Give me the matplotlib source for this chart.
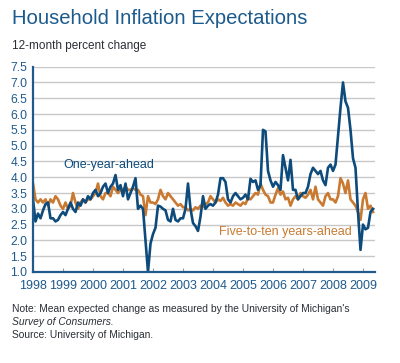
import numpy as np
import matplotlib
matplotlib.use("Agg")
import matplotlib.pyplot as plt

plt.rcParams['font.family'] = ['Liberation Sans', 'DejaVu Sans']

# monthly values, Jan 1998 .. May 2009
one_year = [
    3.3, 2.6, 2.85, 2.7, 2.95, 3.15, 3.2, 2.7, 2.7, 2.6, 2.65, 2.8,      # 1998
    2.9, 2.8, 3.0, 3.2, 3.0, 2.9, 3.2, 3.1, 3.3, 3.2, 3.4, 3.3,          # 1999
    3.5, 3.6, 3.4, 3.5, 3.7, 3.8, 3.5, 3.7, 3.8, 4.07, 3.6, 3.75,        # 2000
    3.4, 3.8, 3.3, 3.5, 3.7, 3.97, 3.0, 3.1, 3.0, 2.0, 1.0, 1.9,         # 2001
    2.2, 2.4, 3.1, 3.07, 3.0, 2.95, 2.65, 2.6, 3.0, 2.65, 2.6, 2.7,      # 2002
    2.7, 3.0, 3.8, 3.0, 2.55, 2.45, 2.3, 2.75, 3.4, 3.0, 3.1, 3.15,      # 2003
    3.1, 3.2, 3.45, 3.97, 3.97, 3.85, 3.3, 3.2, 3.4, 3.5, 3.4, 3.3,      # 2004
    3.35, 3.45, 3.3, 3.95, 3.85, 3.9, 3.6, 3.75, 5.5, 5.45, 4.2, 3.9,    # 2005
    3.7, 3.85, 3.75, 3.6, 4.7, 4.3, 3.9, 4.55, 3.6, 3.6, 3.3, 3.4,       # 2006
    3.5, 3.5, 3.7, 4.1, 4.3, 4.2, 4.1, 4.2, 3.9, 3.75, 4.3, 4.4,         # 2007
    4.2, 4.4, 5.3, 6.2, 7.0, 6.4, 6.2, 5.5, 4.6, 4.3, 2.9, 1.7,          # 2008
    2.5, 2.35, 2.4, 2.9, 3.0,                                            # 2009
]
five_to_ten = [
    3.8, 3.3, 3.2, 3.3, 3.2, 3.3, 3.1, 3.3, 3.2, 3.4, 3.3, 3.1,          # 1998
    3.0, 3.2, 3.0, 3.1, 3.5, 3.2, 3.0, 3.2, 3.3, 3.2, 3.3, 3.3,          # 1999
    3.4, 3.5, 3.8, 3.4, 3.3, 3.5, 3.5, 3.4, 3.7, 3.6, 3.5, 3.6,          # 2000
    3.6, 3.7, 3.6, 3.6, 3.65, 3.6, 3.6, 3.45, 3.4, 2.8, 3.4, 3.2,        # 2001
    3.2, 3.15, 3.3, 3.6, 3.4, 3.3, 3.5, 3.4, 3.3, 3.2, 3.1, 3.15,        # 2002
    3.05, 3.05, 2.95, 3.0, 2.95, 3.05, 3.0, 3.1, 3.05, 3.15, 3.2, 3.4,   # 2003
    3.3, 3.2, 3.3, 3.25, 3.35, 3.2, 3.1, 3.15, 3.1, 3.2, 3.15, 3.1,      # 2004
    3.2, 3.15, 3.35, 3.3, 3.4, 3.5, 3.45, 3.8, 3.6, 3.45, 3.4, 3.2,      # 2005
    3.2, 3.45, 3.65, 3.45, 3.55, 3.3, 3.35, 3.1, 3.3, 3.4, 3.3, 3.5,     # 2006
    3.4, 3.35, 3.45, 3.6, 3.3, 3.7, 3.3, 3.2, 3.1, 3.4, 3.5, 3.3,        # 2007
    3.3, 3.2, 3.4, 3.97, 3.8, 3.5, 3.9, 3.3, 3.2, 3.1, 2.9, 2.65,        # 2008
    3.3, 3.5, 3.0, 3.1, 2.9,                                             # 2009
]
years = list(range(1998, 2010))
y_ticks = [1.0, 1.5, 2.0, 2.5, 3.0, 3.5, 4.0, 4.5, 5.0, 5.5, 6.0, 6.5, 7.0, 7.5]

t = 1998 + np.arange(len(one_year)) / 12.0

BLUE = '#0d4b7c'
AXBLUE = '#1f5a8c'
ORANGE = '#c97a30'
TEXT = '#2a2f36'

fig = plt.figure(figsize=(4.0, 3.63), dpi=100)
ax = fig.add_axes([0.0825, 0.2507, 0.855, 0.5656])

for v in y_ticks[1:]:
    ax.axhline(v, color='#c8c8c8', linewidth=1.0, zorder=1)

ax.plot(t, five_to_ten, color=ORANGE, linewidth=1.9, zorder=3)
ax.plot(t, one_year, color=BLUE, linewidth=1.9, zorder=4)

ax.set_xlim(1998, 2009.4)
ax.set_ylim(1.0, 7.5)
ax.set_yticks(y_ticks)
ax.set_yticklabels([f'{v:.1f}' for v in y_ticks])
ax.set_xticks(years)
ax.set_xticklabels([str(y) for y in years])

for s in ['top', 'right']:
    ax.spines[s].set_visible(False)
for s in ['left', 'bottom']:
    ax.spines[s].set_color(AXBLUE)
    ax.spines[s].set_linewidth(1.6)
ax.spines['left'].set_zorder(5)
ax.spines['bottom'].set_zorder(5)

ax.tick_params(axis='y', length=0, pad=4, labelsize=8.7, labelcolor=AXBLUE)
ax.tick_params(axis='x', direction='in', length=3, color='#999999', pad=6,
               labelsize=9, labelcolor=AXBLUE)

ax.text(1999.0, 4.39, 'One-year-ahead', color=BLUE, fontsize=9,
        ha='left', va='center')
ax.text(2004.2, 2.27, 'Five-to-ten years-ahead', color=ORANGE, fontsize=9,
        ha='left', va='center')

fig.text(12 / 400, 1 - 18 / 363, 'Household Inflation Expectations',
         color='#1b5a8c', fontsize=14.6, ha='left', va='center')
fig.text(12 / 400, 1 - 46 / 363, '12-month percent change',
         color=TEXT, fontsize=8.5, ha='left', va='center')
fig.text(12 / 400, 1 - 309 / 363,
         "Note: Mean expected change as measured by the University of Michigan's",
         color=TEXT, fontsize=7.4, ha='left', va='center')
fig.text(12 / 400, 1 - 322 / 363, 'Survey of Consumers.',
         color=TEXT, fontsize=7.4, style='italic', ha='left', va='center')
fig.text(12 / 400, 1 - 335 / 363, 'Source: University of Michigan.',
         color=TEXT, fontsize=7.4, ha='left', va='center')

fig.savefig('out.png', dpi=100)
